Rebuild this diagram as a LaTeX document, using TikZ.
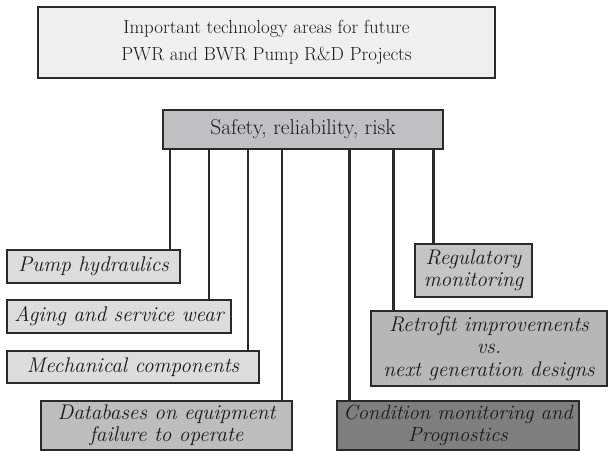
\documentclass[tikz,border=0pt]{standalone}
\usepackage{fontspec}
\usetikzlibrary{calc}
\definecolor{titlefill}{HTML}{EFEFEF}
\definecolor{safefill}{HTML}{C0C0C2}
\definecolor{lightfill}{HTML}{DCDCDC}
\definecolor{midfill}{HTML}{BDBDBD}
\definecolor{regfill}{HTML}{C4C4C4}
\definecolor{retrofill}{HTML}{B7B7B7}
\definecolor{darkfill}{HTML}{7F7F7F}
\definecolor{edge}{HTML}{2A2A2A}
\definecolor{ink}{HTML}{1A1A1A}
\tikzset{
  box/.style={draw=edge, line width=1.1pt, inner sep=0pt, align=center, text=ink},
  ibox/.style={box, font=\fontsize{21.3}{22.5}\selectfont\itshape},
  conn/.style={draw=edge, line width=3pt},
}
\begin{document}
\begin{tikzpicture}[x=1bp,y=-1bp]
\useasboundingbox (0,0) rectangle (609,451);
\node[box, fill=titlefill, minimum width=457bp, minimum height=71bp,
      font=\fontsize{19}{27}\selectfont] (title) at (266.5,42.5)
  {Important technology areas for future\\PWR and BWR Pump R\&D Projects};
\node[box, fill=safefill, minimum width=280bp, minimum height=39bp,
      font=\fontsize{21.5}{24}\selectfont] (safety) at (303,129.5)
  {Safety, reliability, risk};
\node[ibox, fill=lightfill, minimum width=173bp, minimum height=33bp] (pump) at (93.5,266.5) {Pump hydraulics};
\node[ibox, fill=lightfill, minimum width=224bp, minimum height=33bp] (aging) at (119,316.5) {Aging and service wear};
\node[ibox, fill=lightfill, minimum width=252bp, minimum height=32bp] (mech) at (133,367) {Mechanical components};
\node[ibox, fill=midfill, minimum width=251bp, minimum height=49bp] (db) at (166.5,425.5) {Databases on equipment\\failure to operate};
\node[ibox, fill=regfill, minimum width=117bp, minimum height=53bp] (reg) at (473.5,270.5) {Regulatory\\monitoring};
\node[ibox, fill=retrofill, minimum width=236bp, minimum height=75bp] (retro) at (489,348.5) {Retrofit improvements\\vs.\\next generation designs};
\node[ibox, fill=darkfill, minimum width=242bp, minimum height=49bp,
      font=\fontsize{20.6}{22.5}\selectfont\itshape] (cond) at (458,425.5) {Condition monitoring and\\Prognostics};
\coordinate (c1) at (170,0);
\coordinate (c2) at (209,0);
\coordinate (c3) at (248,0);
\coordinate (c4) at (282,0);
\coordinate (c5) at (349,0);
\coordinate (c6) at (393,0);
\coordinate (c7) at (433,0);
\draw[conn] (safety.south -| c1) -- (pump.north -| c1);
\draw[conn] (safety.south -| c2) -- (aging.north -| c2);
\draw[conn] (safety.south -| c3) -- (mech.north -| c3);
\draw[conn] (safety.south -| c4) -- (db.north -| c4);
\draw[conn] (safety.south -| c5) -- (cond.north -| c5);
\draw[conn] (safety.south -| c6) -- (retro.north -| c6);
\draw[conn] (safety.south -| c7) -- (reg.north -| c7);
\end{tikzpicture}
\end{document}
